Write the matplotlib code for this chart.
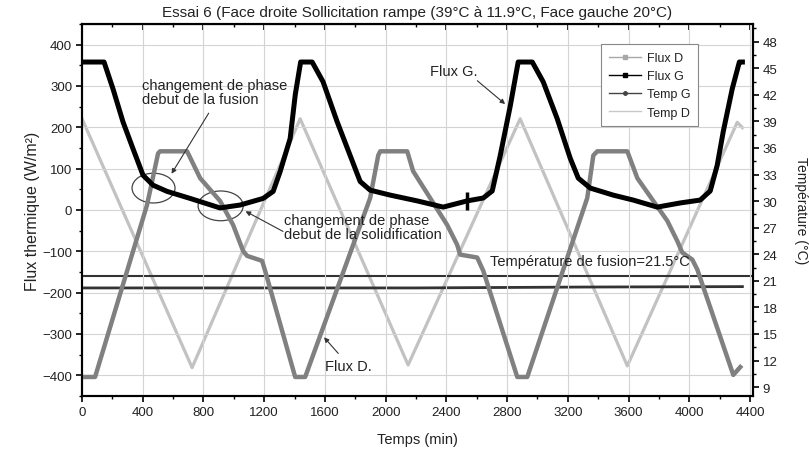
import matplotlib
matplotlib.use('Agg')
import matplotlib.pyplot as plt
from matplotlib.lines import Line2D
from matplotlib.patches import Ellipse
from matplotlib.ticker import MultipleLocator

# Flux G (W/m2)
t_flux_g = [0, 145, 204, 270, 336, 402, 468, 560, 712, 909, 1041, 1193, 1259, 1305, 1371, 1405,
            1440, 1516, 1588, 1680, 1766, 1832, 1898, 2030, 2208, 2379, 2537, 2643, 2702, 2755,
            2821, 2873, 2966, 3038, 3130, 3216, 3269, 3348, 3499, 3631, 3789, 3940, 4072, 4138,
            4184, 4224, 4283, 4330, 4350]
flux_g = [358, 358, 293, 213, 148, 84, 60, 45, 28, 5, 12, 28, 45, 93, 173, 280,
          358, 358, 310, 214, 132, 69, 48, 36, 22, 7, 22, 29, 46, 132,
          252, 358, 358, 310, 221, 125, 77, 53, 36, 24, 7, 17, 24, 46,
          108, 190, 293, 358, 358]

# Flux D (W/m2), medium grey curve
t_flux_d = [0, 86, 428, 501, 514, 692, 778, 909, 995, 1061, 1087, 1186, 1206, 1404,
            1470, 1898, 1951, 1964, 2142, 2181, 2293, 2405, 2471, 2491, 2603, 2643, 2867,
            2933, 3328, 3368, 3394, 3592, 3658, 3763, 3855, 3921, 3954, 4020, 4053, 4290, 4336]
flux_d = [-404, -404, 12, 137, 142, 142, 77, 22, -36, -99, -111, -123, -147, -404,
          -404, 29, 132, 142, 142, 94, 29, -36, -84, -108, -115, -147, -404,
          -404, 29, 132, 142, 142, 77, 22, -26, -75, -103, -120, -144, -399, -380]

# temperatures (deg C), right axis
t_temp_d = [0, 725, 1437, 2148, 2886, 3592, 4316, 4350]
temp_d = [39.3, 11.2, 39.3, 11.5, 39.3, 11.4, 38.9, 38.3]
t_temp_g = [0, 1100, 2200, 3300, 4350]
temp_g = [20.2, 20.2, 20.2, 20.3, 20.35]
t_fusion = 21.5

mark_t = 2537
mark_flux = 22

plt.rcParams['font.family'] = ['Liberation Sans', 'DejaVu Sans']
txt = '#222222'

fig = plt.figure(figsize=(8.09, 4.52), dpi=100)
ax = fig.add_axes([0.1014, 0.1217, 0.8294, 0.823])
ax2 = ax.twinx()
ax.set_zorder(ax2.get_zorder() + 1)
ax.patch.set_visible(False)

# temperatures under the fluxes
ax2.plot(t_temp_d, temp_d, '-', color='#c2c2c2', lw=2.3)
ax2.plot(t_temp_g, temp_g, '-', color='#333333', lw=2.0)
ax2.axhline(t_fusion, color='#333333', lw=1.5)

ax.plot(t_flux_d, flux_d, '-', color='#808080', lw=3.2)
ax.plot(t_flux_g, flux_g, '-', color='black', lw=3.6)
ax.plot([mark_t], [mark_flux], '|', color='black', ms=13, mew=2.5)

ax.set_xlim(0, 4420)
ax.set_ylim(-450, 450)
ax2.set_ylim(8, 50)

ax.set_xticks(range(0, 4401, 400))
ax.xaxis.set_minor_locator(MultipleLocator(200))
ax.set_yticks(range(-400, 401, 100))
ax.yaxis.set_minor_locator(MultipleLocator(50))
ax2.set_yticks(range(9, 49, 3))
ax2.yaxis.set_minor_locator(MultipleLocator(1.5))

ax.grid(True, which='major', color='#d4d4d4', lw=0.8)
ax.set_axisbelow(True)

for a in (ax, ax2):
    a.tick_params(which='major', length=4, width=1.2, labelsize=9.5, labelcolor=txt, pad=3)
    a.tick_params(which='minor', length=2.5, width=1.0)
    for s in a.spines.values():
        s.set_linewidth(1.5)

top = ax.secondary_xaxis('top')
top.set_xticks(range(0, 4401, 400))
top.xaxis.set_minor_locator(MultipleLocator(200))
top.tick_params(which='both', direction='in', labeltop=False)
top.tick_params(which='major', length=4, width=1.2)
top.tick_params(which='minor', length=2.5, width=1.0)

ax.set_title('Essai 6 (Face droite Sollicitation rampe (39°C à 11.9°C, Face gauche 20°C)',
             fontsize=11, color=txt, pad=6)
ax.set_xlabel('Temps (min)', fontsize=10.5, color=txt, labelpad=10)
ax.set_ylabel('Flux thermique (W/m²)', fontsize=11.5, color=txt, labelpad=2)
ax2.set_ylabel('Température (°C)', fontsize=10, color=txt, rotation=270, labelpad=22)

# annotations
fs = 10.5
ax.add_patch(Ellipse((471, 53), 283, 72, fill=False, ec='#444444', lw=0.9))
ax.add_patch(Ellipse((913, 10), 297, 72, fill=False, ec='#444444', lw=0.9))
ax.text(395, 320, 'changement de phase\ndebut de la fusion', fontsize=fs, color=txt,
        ha='left', va='top', linespacing=1.0)
ax.annotate('', xy=(580, 82), xytext=(844, 240),
            arrowprops=dict(arrowstyle='-|>', color='#333333', lw=0.8, mutation_scale=7))
ax.text(1330, -8, 'changement de phase\ndebut de la solidification', fontsize=fs, color=txt,
        ha='left', va='top', linespacing=1.0)
ax.annotate('', xy=(1061, 0), xytext=(1340, -55),
            arrowprops=dict(arrowstyle='-|>', color='#333333', lw=0.8, mutation_scale=7))
ax.text(2293, 337, 'Flux G.', fontsize=fs, color=txt, ha='left', va='center')
ax.annotate('', xy=(2801, 252), xytext=(2590, 317),
            arrowprops=dict(arrowstyle='-|>', color='#333333', lw=0.8, mutation_scale=7))
ax.text(1601, -378, 'Flux D.', fontsize=fs, color=txt, ha='left', va='center')
ax.annotate('', xy=(1582, -303), xytext=(1700, -352),
            arrowprops=dict(arrowstyle='-|>', color='#333333', lw=0.8, mutation_scale=7))
ax.text(2690, -123, 'Température de fusion=21.5°C', fontsize=fs, color=txt,
        ha='left', va='center')

handles = [
    Line2D([], [], color='#a8a8a8', lw=1.0, marker='s', ms=3),
    Line2D([], [], color='black', lw=1.0, marker='s', ms=3.5),
    Line2D([], [], color='#444444', lw=1.0, marker='o', ms=2.5),
    Line2D([], [], color='#c8c8c8', lw=1.0),
]
leg = ax.legend(handles, ['Flux D', 'Flux G', 'Temp G', 'Temp D'], loc='upper right',
                bbox_to_anchor=(0.928, 0.962), fontsize=9, fancybox=False,
                edgecolor='#888888', framealpha=1, handlelength=2.6, handletextpad=0.5,
                borderpad=0.6, labelspacing=0.5)
for t in leg.get_texts():
    t.set_color(txt)
leg.get_frame().set_linewidth(0.8)

fig.savefig('out.png', dpi=100)
